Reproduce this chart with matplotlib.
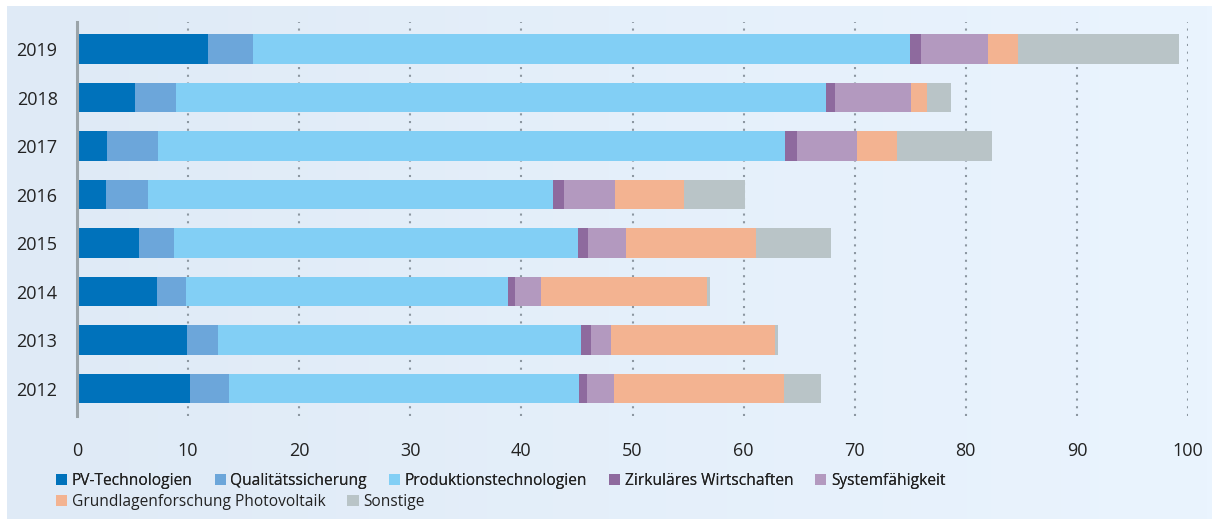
import numpy as np
import matplotlib
matplotlib.use("Agg")
import matplotlib.pyplot as plt
from matplotlib.patches import Patch

plt.rcParams['font.family'] = ['Open Sans', 'DejaVu Sans']

years = ['2012', '2013', '2014', '2015', '2016', '2017', '2018', '2019']
categories = ['PV-Technologien', 'Qualitätssicherung', 'Produktionstechnologien',
              'Zirkuläres Wirtschaften', 'Systemfähigkeit',
              'Grundlagenforschung Photovoltaik', 'Sonstige']

# values per category, one entry per year (2012 ... 2019)
pv_tech = [10.2, 9.9, 7.2, 5.6, 2.6, 2.7, 5.2, 11.8]
qualitaet = [3.5, 2.8, 2.6, 3.1, 3.8, 4.6, 3.7, 4.0]
produktion = [31.5, 32.7, 29.0, 36.4, 36.4, 56.4, 58.5, 59.2]
zirkulaer = [0.7, 0.9, 0.6, 0.9, 1.0, 1.1, 0.8, 1.0]
system = [2.4, 1.8, 2.4, 3.4, 4.6, 5.4, 6.9, 6.0]
grundlagen = [15.3, 14.7, 14.9, 11.7, 6.2, 3.6, 1.4, 2.7]
sonstige = [3.4, 0.3, 0.3, 6.8, 5.5, 8.6, 2.2, 14.5]

series = [pv_tech, qualitaet, produktion, zirkulaer, system, grundlagen, sonstige]
colors = ['#0072BB', '#6CA6DA', '#82CFF5', '#8E6A9E', '#B399BF', '#F3B391', '#B9C4C7']

W, H = 1212, 519
fig = plt.figure(figsize=(W / 100, H / 100), dpi=100, facecolor='white')

# light blue gradient panel behind everything
bg = fig.add_axes([7 / W, 0, 1 - 7 / W, 1 - 6 / H], zorder=-10)
grad = np.linspace(0, 1, 256).reshape(1, -1)
cmap = matplotlib.colors.LinearSegmentedColormap.from_list('bg', ['#DFEAF6', '#EAF4FE'])
bg.imshow(grad, aspect='auto', cmap=cmap, extent=[0, 1, 0, 1])
bg.axis('off')

ax = fig.add_axes([77 / W, 1 - 416 / H, (1188 - 77) / W, (416 - 22) / H])
ax.set_facecolor('none')

y = np.arange(len(years))
left = np.zeros(len(years))
for vals, col, name in zip(series, colors, categories):
    ax.barh(y, vals, left=left, height=0.61, color=col, label=name, zorder=3)
    left += np.array(vals)

ax.set_xlim(0, 100)
ax.set_ylim(-0.563, 7.557)
ax.set_xticks(range(0, 101, 10))
ax.set_yticks(y)
ax.set_yticklabels(years)
ax.tick_params(axis='both', length=0, labelsize=13, colors='#222222')
ax.tick_params(axis='x', pad=19)
ax.tick_params(axis='y', pad=14)

for xv in range(10, 101, 10):
    ax.axvline(xv, color='#8C97A1', lw=1.5, linestyle=(0, (1, 2.7)), zorder=1)

for s in ['top', 'right', 'bottom']:
    ax.spines[s].set_visible(False)
ax.spines['left'].set_color('#9BA4A9')
ax.spines['left'].set_linewidth(2.2)
ax.spines['left'].set_zorder(4)

handles = [Patch(facecolor=c, edgecolor='none') for c in colors]
kw = dict(frameon=False, fontsize=11.2, handlelength=0.72, handleheight=0.72,
          handletextpad=0.3, columnspacing=1.4, borderaxespad=0, borderpad=0,
          labelcolor='#222222')
leg1 = fig.legend(handles[:5], categories[:5], ncol=5, loc='center left',
                  bbox_to_anchor=(56 / W, 1 - 481 / H), **kw)
fig.add_artist(leg1)
fig.legend(handles[5:], categories[5:], ncol=2, loc='center left',
           bbox_to_anchor=(56 / W, 1 - 502 / H), **kw)

fig.savefig('out.png', dpi=100, facecolor='white')
